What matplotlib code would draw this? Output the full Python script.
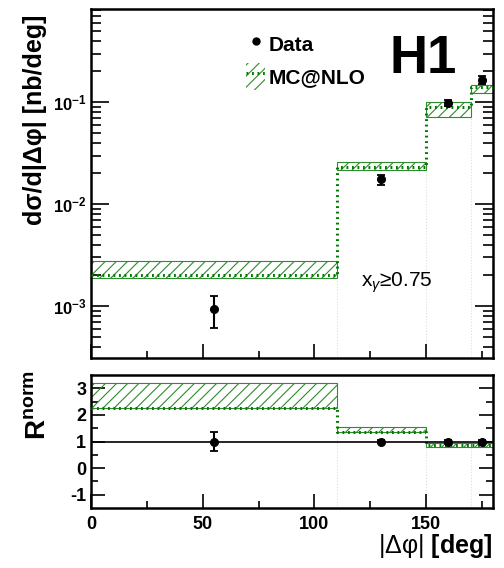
import numpy as np
import matplotlib
matplotlib.use("Agg")
import matplotlib.pyplot as plt
from matplotlib.lines import Line2D
from matplotlib.patches import Patch
from matplotlib.ticker import FixedLocator, NullFormatter, LogLocator, FixedFormatter

plt.rcParams['font.family'] = ['Liberation Sans', 'DejaVu Sans']
plt.rcParams['font.weight'] = 'bold'
plt.rcParams['mathtext.fontset'] = 'custom'
plt.rcParams['mathtext.rm'] = 'Liberation Sans:weight=normal'
plt.rcParams['mathtext.it'] = 'Liberation Sans:italic:weight=normal'
plt.rcParams['mathtext.bf'] = 'Liberation Sans:bold'
plt.rcParams['hatch.linewidth'] = 0.8
plt.rcParams['axes.unicode_minus'] = False

# bins in |dphi| [deg]
bin_edges = [0, 110, 150, 170, 180]
data_x = [55, 130, 160, 175]

# cross section [nb/deg]
data_y = [0.93e-3, 0.0176, 0.098, 0.165]
data_err_lo = [0.32e-3, 0.0021, 0.006, 0.015]
data_err_hi = [0.32e-3, 0.0017, 0.006, 0.015]
mc_central = [2.0e-3, 0.023, 0.089, 0.140]
mc_low = [1.9e-3, 0.0216, 0.071, 0.123]
mc_high = [2.75e-3, 0.026, 0.100, 0.147]

# normalised ratio
ratio_y = [1.0, 1.0, 1.0, 1.0]
ratio_err = [0.34, 0.07, 0.04, 0.05]
rmc_central = [2.25, 1.37, 0.88, 0.88]
rmc_low = [2.25, 1.35, 0.79, 0.81]
rmc_high = [3.19, 1.56, 0.96, 0.94]

green = '#2e8b2e'
dgreen = '#007a00'

fig = plt.figure(figsize=(5.04, 5.68), dpi=100)
ax = fig.add_axes([91/504, 1-358/568, 402/504, 349/568])
axr = fig.add_axes([91/504, 1-508/568, 402/504, 133/568])

left = np.array(bin_edges[:-1])
width = np.diff(bin_edges)


def draw_mc(a, cen, lo, hi, ybot):
    a.bar(left, np.array(hi) - np.array(lo), bottom=lo, width=width, align='edge',
          fill=False, hatch='///', edgecolor=green, linewidth=0.8, zorder=2)
    # faint bin-edge lines
    for i, e in enumerate(bin_edges[1:-1]):
        a.vlines(e, ybot, min(lo[i], lo[i + 1]), color='#dddddd', lw=0.8,
                 linestyle=':', zorder=1)
    a.step(bin_edges, list(cen) + [cen[-1]], where='post', color=dgreen,
           lw=2.2, linestyle=(0, (0.6, 1.2)), zorder=3)


def style(a):
    a.tick_params(which='both', direction='in', left=True, right=True,
                  top=False, bottom=True, labelsize=13, width=1.2)
    a.tick_params(which='major', length=10)
    a.tick_params(which='minor', length=5)
    for s in a.spines.values():
        s.set_linewidth(1.8)
    a.set_xlim(0, 180)
    a.xaxis.set_major_locator(FixedLocator([0, 50, 100, 150]))
    a.xaxis.set_minor_locator(FixedLocator([25, 75, 125, 175]))


# top panel
ax.set_yscale('log')
ax.set_ylim(3.1e-4, 0.82)
draw_mc(ax, mc_central, mc_low, mc_high, 3.1e-4)
ax.errorbar(data_x, data_y, yerr=[data_err_lo, data_err_hi], fmt='o', color='black',
            ms=5.5, lw=1.5, capsize=3, capthick=1.3, zorder=5)
style(ax)
ax.xaxis.set_major_formatter(NullFormatter())
ax.yaxis.set_major_locator(FixedLocator([1e-3, 1e-2, 1e-1]))
ax.yaxis.set_major_formatter(FixedFormatter([r'$\mathbf{10^{-3}}$', r'$\mathbf{10^{-2}}$',
                                             r'$\mathbf{10^{-1}}$']))
ax.yaxis.set_minor_locator(LogLocator(base=10, subs=np.arange(2, 10), numticks=20))
ax.yaxis.set_minor_formatter(NullFormatter())
ax.tick_params(axis='y', which='major', length=13, labelsize=12)
ax.tick_params(axis='y', which='minor', length=7)

ax.text(0.826, 0.857, 'H1', transform=ax.transAxes, fontsize=38, fontweight='bold',
        ha='center', va='center')
ax.text(0.672, 0.215, r'x$_{\gamma}$≥0.75', transform=ax.transAxes, fontsize=15,
        fontweight='normal', ha='left', va='center')

h_data = Line2D([], [], marker='o', color='black', ms=5, linestyle='none')
h_mc = (Patch(facecolor='none', edgecolor=green, hatch='///', linewidth=0),
        Line2D([], [], color=dgreen, lw=2.2, linestyle=(0, (0.6, 1.2))))
ax.legend([h_data, h_mc], ['Data', 'MC@NLO'], loc='upper left',
          bbox_to_anchor=(0.34, 0.99), frameon=False, handlelength=0.9,
          handleheight=1.6, handletextpad=0.15, labelspacing=0.23,
          prop={'weight': 'bold', 'size': 15})

fig.text(35/504, 1-120/568, 'dσ/d|Δφ| [nb/deg]', rotation=90, ha='center',
         va='center', fontsize=18, fontweight='bold')

# ratio panel
axr.set_ylim(-1.5, 3.5)
draw_mc(axr, rmc_central, rmc_low, rmc_high, -1.5)
axr.axhline(1, color='black', lw=1.2, zorder=4)
axr.errorbar(data_x, ratio_y, yerr=ratio_err, fmt='o', color='black', ms=5.5, lw=1.5,
             capsize=3, capthick=1.3, zorder=5)
style(axr)
axr.yaxis.set_major_locator(FixedLocator([-1, 0, 1, 2, 3]))
axr.yaxis.set_minor_locator(FixedLocator([-0.5, 0.5, 1.5, 2.5]))
axr.tick_params(axis='x', pad=6)

for lab in ax.get_yticklabels() + axr.get_xticklabels() + axr.get_yticklabels():
    lab.set_fontweight('bold')

fig.text(38/504, 1-405/568, r'$\mathbf{R^{norm}}$', rotation=90, ha='center',
         va='center', fontsize=20)
fig.text(492/504, 1-546/568, r'$\mathrm{|Δφ|}$ [deg]', ha='right', va='center',
         fontsize=18, fontweight='bold')

fig.savefig('out.png', dpi=100)
